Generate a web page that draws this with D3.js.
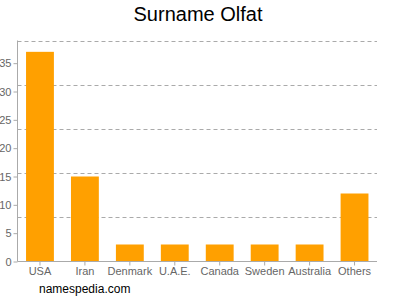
<!DOCTYPE html>
<html lang="en">
<head>
    <meta charset="UTF-8">
    <title>Surname Olfat</title>
    <style>
        body, html {
            margin: 0;
            overflow: hidden;
            background: #fff;
        }
        text {
            font-family: Arial, "Liberation Sans", sans-serif;
        }
    </style>
</head>
<body>

<script src="https://d3js.org/d3.v7.min.js"></script>

<script>
    // Chart data
    const countries = ["USA", "Iran", "Denmark", "U.A.E.", "Canada", "Sweden", "Australia", "Others"];
    const counts = [37, 15, 3, 3, 3, 3, 3, 12];
    const yTicks = [0, 5, 10, 15, 20, 25, 30, 35];
    const yMax = 39;

    const width = 400,
        height = 300;

    const svg = d3.create("svg")
        .attr("width", width)
        .attr("height", height);

    const plotLeft = 17.5, plotRight = 377, plotTop = 40.5, plotBottom = 261.5;

    const x = d3.scaleBand()
        .domain(countries)
        .range([plotLeft, plotRight])
        .paddingInner(0.38)
        .paddingOuter(0.19);

    const y = d3.scaleLinear()
        .domain([0, yMax])
        .range([plotBottom, plotTop]);

    // Dashed grid lines (5 even divisions)
    const gridVals = d3.range(1, 6).map(i => yMax * i / 5);
    svg.append("g")
        .selectAll("line")
        .data(gridVals)
        .enter().append("line")
        .attr("x1", plotLeft)
        .attr("x2", plotRight)
        .attr("y1", d => Math.round(y(d)) + 0.5)
        .attr("y2", d => Math.round(y(d)) + 0.5)
        .attr("stroke", "#aaa")
        .attr("stroke-dasharray", "4,3")
        .attr("stroke-width", 1);

    // Bars
    svg.append("g")
        .selectAll("rect")
        .data(countries)
        .enter().append("rect")
        .attr("x", d => x(d))
        .attr("y", (d, i) => y(counts[i]))
        .attr("width", x.bandwidth())
        .attr("height", (d, i) => y(0) - y(counts[i]))
        .attr("fill", "#ffa000");

    // Y axis
    const yAxis = svg.append("g")
        .attr("transform", `translate(${plotLeft},0)`)
        .call(d3.axisLeft(y).tickValues(yTicks).tickSize(4).tickPadding(2));
    yAxis.select(".domain").attr("stroke", "#aaa").attr("d", `M0,${plotTop}V${plotBottom}`);
    yAxis.selectAll(".tick line").attr("stroke", "#aaa");
    yAxis.selectAll(".tick text")
        .attr("fill", "#666")
        .style("font-size", "11px");

    // X axis
    const xAxis = svg.append("g")
        .attr("transform", `translate(0,${plotBottom})`)
        .call(d3.axisBottom(x).tickSize(4).tickPadding(2));
    xAxis.select(".domain").attr("stroke", "#aaa").attr("d", `M${plotLeft},0H${plotRight}`);
    xAxis.selectAll(".tick line").attr("stroke", "#aaa");
    xAxis.selectAll(".tick text")
        .attr("fill", "#666")
        .style("font-size", "11px");

    // Title
    svg.append("text")
        .attr("x", 198)
        .attr("y", 21)
        .attr("text-anchor", "middle")
        .style("font-size", "20px")
        .attr("fill", "#000")
        .text("Surname Olfat");

    // Footer
    svg.append("text")
        .attr("x", 39)
        .attr("y", 293)
        .style("font-size", "12px")
        .attr("fill", "#000")
        .text("namespedia.com");

    document.body.appendChild(svg.node());
</script>

</body>
</html>
